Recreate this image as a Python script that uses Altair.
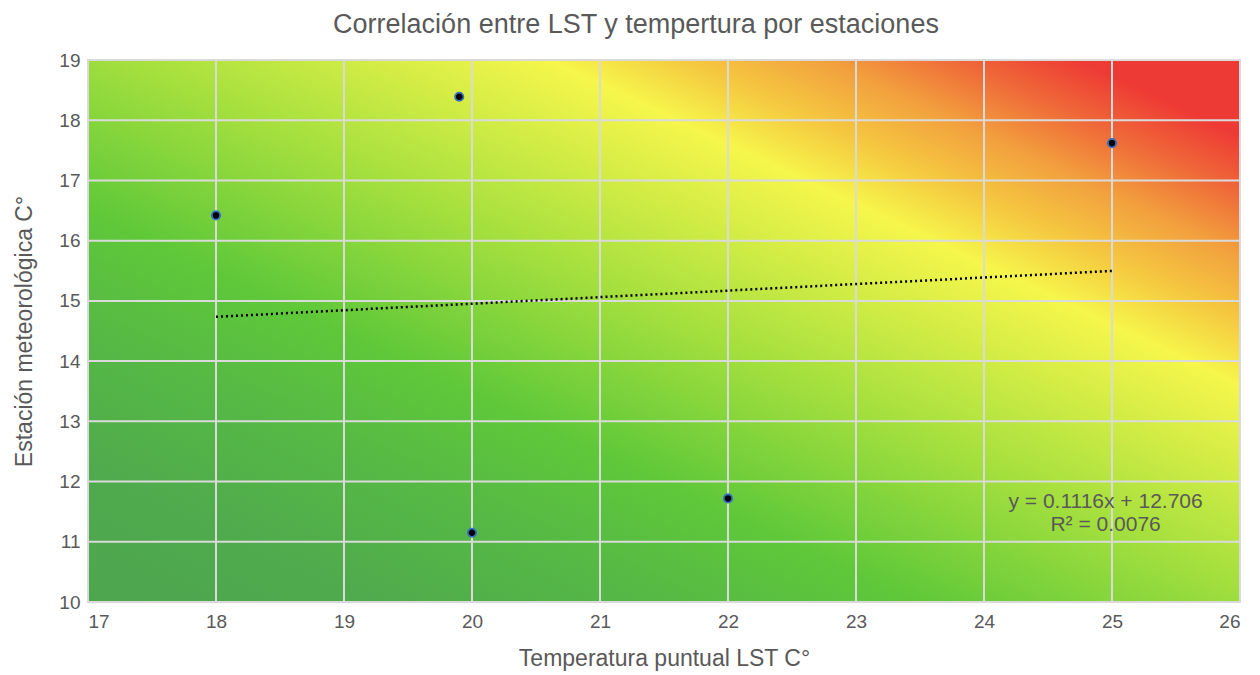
import altair as alt
import pandas as pd

# Data
lst_temp = [18.0, 19.9, 20.0, 22.0, 25.0]
station_temp = [16.42, 18.39, 11.15, 11.72, 17.62]
x_ticks = [18, 19, 20, 21, 22, 23, 24, 25]
y_ticks = [11, 12, 13, 14, 15, 16, 17, 18]
x_labels = [17, 18, 19, 20, 21, 22, 23, 24, 25, 26]
y_labels = [10, 11, 12, 13, 14, 15, 16, 17, 18, 19]
x_domain = [17, 26]
y_domain = [10, 19]
eq_lines = ["y = 0.1116x + 12.706", "R² = 0.0076"]
eq_x = [24.95, 24.95]
eq_y = [11.66, 11.28]

W, H = 1152, 542
FONT = "Liberation Sans"
GRAY = "#595959"

pts = pd.DataFrame({"x": lst_temp, "y": station_temp})
bg = pd.DataFrame({"x": [x_domain[0]], "x2": [x_domain[1]], "y": [y_domain[0]], "y2": [y_domain[1]]})
vx = pd.DataFrame({"x": x_ticks})
hy = pd.DataFrame({"y": y_ticks})
eq = pd.DataFrame({"x": eq_x, "y": eq_y, "t": eq_lines})

xs = alt.Scale(domain=x_domain, nice=False, zero=False)
ys = alt.Scale(domain=y_domain, nice=False, zero=False)

x_axis = alt.Axis(
    values=x_labels, title="Temperatura puntual LST C°",
    grid=False, domain=False, ticks=False, labelFontSize=19, labelColor=GRAY,
    labelPadding=10, titleFontSize=23, titleFontWeight="normal", titleColor=GRAY,
    titlePadding=16, labelFont=FONT, titleFont=FONT)
y_axis = alt.Axis(
    values=y_labels, title="Estación meteorológica C°",
    grid=False, domain=False, ticks=False, labelFontSize=19, labelColor=GRAY,
    labelPadding=8, titleFontSize=23, titleFontWeight="normal", titleColor=GRAY,
    titlePadding=22, labelFont=FONT, titleFont=FONT)

X = lambda f: alt.X(f, scale=xs, axis=x_axis)
Y = lambda f: alt.Y(f, scale=ys, axis=y_axis)

grad = alt.LinearGradient(
    gradient="linear",
    x1=0, y1=1, x2=1, y2=0,
    stops=[
        alt.GradientStop(offset=0.0, color="#4EA54F"),
        alt.GradientStop(offset=0.12, color="#4FAA4D"),
        alt.GradientStop(offset=0.26, color="#56BA44"),
        alt.GradientStop(offset=0.36, color="#5FC839"),
        alt.GradientStop(offset=0.52, color="#A6E03E"),
        alt.GradientStop(offset=0.70, color="#F6F64B"),
        alt.GradientStop(offset=0.76, color="#F5C840"),
        alt.GradientStop(offset=0.82, color="#F2A03E"),
        alt.GradientStop(offset=0.88, color="#EF6638"),
        alt.GradientStop(offset=0.93, color="#EE3A35"),
        alt.GradientStop(offset=1.0, color="#EE3A35"),
    ],
)

background = alt.Chart(bg).mark_rect(color=grad, stroke="#D9D9D9", strokeWidth=2).encode(
    x=X("x:Q"), x2="x2:Q", y=Y("y:Q"), y2="y2:Q")

vgrid = alt.Chart(vx).mark_rule(color="#DADADA", strokeWidth=2).encode(x=X("x:Q"))
hgrid = alt.Chart(hy).mark_rule(color="#DADADA", strokeWidth=2).encode(y=Y("y:Q"))

trend = alt.Chart(pts).transform_regression("x", "y", method="linear").mark_line(
    color="black", strokeWidth=2.5, strokeDash=[2, 3]
).encode(x=X("x:Q"), y=Y("y:Q"))

points = alt.Chart(pts).mark_point(
    filled=True, color="black", stroke="#3A6FC4", strokeWidth=1.8, size=70, opacity=1
).encode(x=X("x:Q"), y=Y("y:Q"))

eq_text = alt.Chart(eq).mark_text(font=FONT, fontSize=21, color=GRAY, align="center", baseline="middle").encode(
    x=X("x:Q"), y=Y("y:Q"), text="t:N")

chart = alt.layer(background, vgrid, hgrid, trend, points, eq_text).properties(
    width=W, height=H,
    title=alt.TitleParams(
        "Correlación entre LST y tempertura por estaciones",
        font=FONT, fontSize=27, fontWeight="normal", color=GRAY,
        anchor="middle", dx=-28, offset=12),
    autosize=alt.AutoSizeParams(type="none"),
    padding={"left": 80, "top": 52, "right": 4, "bottom": 72},
).configure_view(stroke=None)

chart.save("out.html", embed_options={"renderer": "svg", "actions": False})
